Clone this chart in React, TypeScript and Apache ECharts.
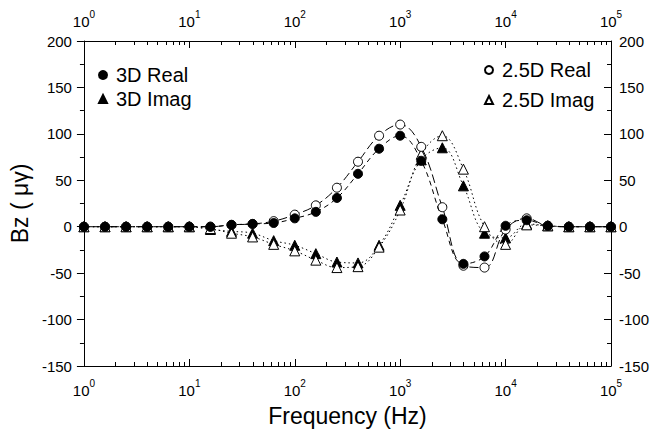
import React, { useEffect, useRef } from "react";
import * as echarts from "echarts";

const freqs = [1, 1.585, 2.512, 3.981, 6.31, 10, 15.85, 25.12, 39.81, 63.1, 100, 158.5, 251.2, 398.1, 631, 1000, 1585, 2512, 3981, 6310, 10000, 15850, 25120, 39810, 63100, 100000];
const real3D = [0, 0, 0, 0, 0, 0, 0, 2, 3, 4, 9, 16, 31, 57, 84, 98, 71, 8, -40, -32, 1, 7, 1, 0, 0, 0];
const real25D = [0, 0, 0, 0, 0, 0, 0, 2, 3, 6, 13, 23, 42, 70, 98, 110, 86, 21, -42, -44, -3, 9, 1, 0, 0, 0];
const imag3D = [0, 0, 0, 0, 0, 0, -3, -5, -7, -15, -20, -29, -38, -39, -20, 23, 72, 85, 44, -7, -12, 3, 1, 0, 0, 0];
const imag25D = [0, 0, 0, 0, 0, 0, -2, -7, -11, -19, -26, -36, -44, -43, -22, 18, 78, 98, 62, 0, -19, 2, 1, 0, 0, 0];

const decades = [0, 1, 2, 3, 4];
const minorMultipliers = [2, 3, 4, 5, 6, 7, 8, 9];

const FONT = "Liberation Sans, Arial, sans-serif";

export default function App() {
  const ref = useRef<HTMLDivElement>(null);
  useEffect(() => {
    document.body.style.margin = "0";
    const chart = echarts.init(ref.current!, null, { renderer: "svg" });
    const pts = (ys: number[]) => freqs.map((f, i) => [f, ys[i]]);
    const minorVals: number[] = [];
    decades.forEach((d) => minorMultipliers.forEach((m) => minorVals.push(d + Math.log10(m))));

    const logLabel = {
      fontFamily: FONT,
      color: "#000",
      formatter: (v: number) => `{b|10}{s|${Math.round(Math.log10(v))}}`,
      rich: {
        b: { fontSize: 15, fontFamily: FONT, color: "#000", lineHeight: 20, verticalAlign: "bottom" },
        s: { fontSize: 10, fontFamily: FONT, color: "#000", lineHeight: 20, verticalAlign: "top", padding: [0, 0, 6, 0] },
      },
    };

    const mainX = (pos: "top" | "bottom", extra: any = {}) => ({
      type: "log",
      logBase: 10,
      min: 1,
      max: 100000,
      position: pos,
      axisLine: { show: true, onZero: false, lineStyle: { color: "#000", width: 1 } },
      axisTick: { show: true, inside: true, length: 7, lineStyle: { color: "#000" } },
      axisLabel: { ...logLabel, margin: 12 },
      splitLine: { show: false },
      minorTick: { show: false },
      ...extra,
    });
    const minorX = (pos: "top" | "bottom") => ({
      type: "value",
      min: 0,
      max: 5,
      position: pos,
      axisLine: { show: false, onZero: false },
      axisLabel: { show: false },
      splitLine: { show: false },
      axisTick: { show: true, inside: true, length: 4, customValues: minorVals, lineStyle: { color: "#000" } },
    });

    const yBase = {
      type: "value",
      min: -150,
      max: 200,
      interval: 50,
      splitLine: { show: false },
      axisLine: { show: true, onZero: false, lineStyle: { color: "#000", width: 1 } },
      minorTick: { show: true, splitNumber: 2, length: 4, lineStyle: { color: "#000" } },
      axisLabel: { fontSize: 15, fontFamily: FONT, color: "#000" },
    };

    const openStyle = { color: "#fff", borderColor: "#000", borderWidth: 1 };
    const filledStyle = { color: "#000", borderColor: "#000", borderWidth: 1 };

    chart.setOption({
      animation: false,
      backgroundColor: "#fff",
      grid: { left: 79, right: 61, top: 41, bottom: 66 },
      xAxis: [
        mainX("bottom", {
          name: "Frequency (Hz)",
          nameLocation: "middle",
          nameGap: 38,
          nameTextStyle: { fontSize: 23, fontFamily: FONT, color: "#000" },
        }),
        mainX("top"),
        minorX("bottom"),
        minorX("top"),
      ],
      yAxis: [
        {
          ...yBase,
          position: "left",
          axisTick: { show: true, inside: false, length: 7, lineStyle: { color: "#000" } },
          axisLabel: { ...yBase.axisLabel, margin: 12 },
          name: "Bz ( \u03BC\u03B3)",
          nameLocation: "middle",
          nameGap: 46,
          nameTextStyle: { fontSize: 23, fontFamily: FONT, color: "#000" },
        },
        {
          ...yBase,
          position: "right",
          axisTick: { show: true, inside: true, length: 7, lineStyle: { color: "#000" } },
          minorTick: { ...yBase.minorTick },
          axisLabel: { ...yBase.axisLabel, margin: 8 },
        },
      ],
      legend: [
        {
          orient: "vertical",
          left: 93,
          top: 60,
          itemGap: 4,
          itemWidth: 8,
          itemHeight: 8,
          textStyle: { fontSize: 20, fontFamily: FONT, color: "#000", padding: [0, 0, 0, 4] },
          data: [
            { name: "3D Real", icon: "circle" },
            { name: "3D Imag", icon: "triangle" },
          ],
        },
        {
          orient: "vertical",
          left: 479,
          top: 55,
          itemGap: 10,
          itemWidth: 8,
          itemHeight: 8,
          textStyle: { fontSize: 20, fontFamily: FONT, color: "#000", padding: [0, 0, 0, 4] },
          data: [
            { name: "2.5D Real", icon: "circle" },
            { name: "2.5D Imag", icon: "triangle" },
          ],
        },
      ],
      series: [
        {
          name: "3D Imag",
          type: "line",
          data: pts(imag3D),
          smooth: 0.4,
          symbol: "triangle",
          symbolSize: 10,
          itemStyle: filledStyle,
          lineStyle: { color: "#000", width: 1, type: [1.5, 3] },
          z: 2,
        },
        {
          name: "2.5D Imag",
          type: "line",
          data: pts(imag25D),
          smooth: 0.4,
          symbol: "triangle",
          symbolSize: 10,
          itemStyle: openStyle,
          lineStyle: { color: "#000", width: 1, type: [1.5, 3] },
          z: 2,
        },
        {
          name: "2.5D Real",
          type: "line",
          data: pts(real25D),
          smooth: 0.4,
          symbol: "circle",
          symbolSize: 9,
          itemStyle: openStyle,
          lineStyle: { color: "#000", width: 1, type: [9, 4] },
          z: 3,
        },
        {
          name: "3D Real",
          type: "line",
          data: pts(real3D),
          smooth: 0.4,
          symbol: "circle",
          symbolSize: 9,
          itemStyle: filledStyle,
          lineStyle: { color: "#000", width: 1, type: [5, 4] },
          z: 4,
        },
      ],
    });
    return () => chart.dispose();
  }, []);
  return <div ref={ref} style={{ width: 672, height: 432 }} />;
}
